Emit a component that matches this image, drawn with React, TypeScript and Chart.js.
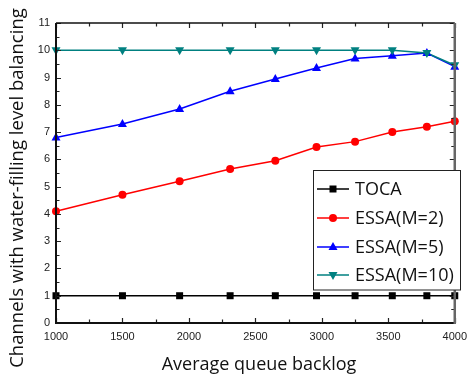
import React, { useEffect, useRef } from "react";
import { Chart, registerables } from "chart.js";

Chart.register(...registerables);

const xValues = [1000, 1500, 1930, 2310, 2650, 2960, 3250, 3530, 3790, 4000];
const toca = [1, 1, 1, 1, 1, 1, 1, 1, 1, 1];
const essaM2 = [4.1, 4.7, 5.2, 5.65, 5.95, 6.45, 6.65, 7.0, 7.2, 7.4];
const essaM5 = [6.8, 7.3, 7.85, 8.5, 8.95, 9.35, 9.7, 9.8, 9.9, 9.4];
const essaM10 = [10, 10, 10, 10, 10, 10, 10, 10, 9.9, 9.45];

const seriesNames = ["TOCA", "ESSA(M=2)", "ESSA(M=5)", "ESSA(M=10)"];
const seriesColors = ["#000000", "#ff0000", "#0000ff", "#008080"];
const seriesMarkers = ["square", "circle", "triUp", "triDown"];
const seriesValues = [toca, essaM2, essaM5, essaM10];

const xTitle = "Average queue backlog";
const yTitle = "Channels with water-filling level balancing";

const xMin = 1000, xMax = 4000, xStep = 500;
const yMin = 0, yMax = 11, yStep = 1;

function drawMarker(ctx: CanvasRenderingContext2D, kind: string, x: number, y: number, color: string) {
  ctx.save();
  ctx.fillStyle = color;
  ctx.beginPath();
  if (kind === "square") {
    ctx.rect(x - 3.5, y - 3.5, 7, 7);
  } else if (kind === "circle") {
    ctx.arc(x, y, 4, 0, Math.PI * 2);
  } else if (kind === "triUp") {
    ctx.moveTo(x, y - 5);
    ctx.lineTo(x + 4.5, y + 3);
    ctx.lineTo(x - 4.5, y + 3);
    ctx.closePath();
  } else {
    ctx.moveTo(x, y + 5);
    ctx.lineTo(x + 4.5, y - 3);
    ctx.lineTo(x - 4.5, y - 3);
    ctx.closePath();
  }
  ctx.fill();
  ctx.restore();
}

const framePlugin = {
  id: "frame",
  afterDraw(chart: any) {
    const ctx: CanvasRenderingContext2D = chart.ctx;
    const { left, right, top, bottom } = chart.chartArea;
    const xs = chart.scales.x;
    const ys = chart.scales.y;
    ctx.save();
    // ticks
    ctx.strokeStyle = "#222";
    ctx.lineWidth = 1.2;
    for (let v = xMin; v <= xMax; v += xStep / 2) {
      const px = Math.round(xs.getPixelForValue(v)) + 0.5;
      const major = (v - xMin) % xStep === 0;
      const len = major ? 5 : 3.5;
      ctx.beginPath();
      ctx.moveTo(px, bottom);
      ctx.lineTo(px, bottom - len);
      ctx.moveTo(px, top);
      ctx.lineTo(px, top + len);
      ctx.stroke();
    }
    for (let v = yMin; v <= yMax; v += yStep / 2) {
      const py = Math.round(ys.getPixelForValue(v)) + 0.5;
      const major = Math.abs(v - Math.round(v)) < 1e-9;
      const len = major ? 5 : 3.5;
      ctx.beginPath();
      ctx.moveTo(left, py);
      ctx.lineTo(left + len, py);
      ctx.moveTo(right, py);
      ctx.lineTo(right - len, py);
      ctx.stroke();
    }
    // frame
    ctx.lineWidth = 2;
    ctx.strokeStyle = "#111";
    ctx.beginPath();
    ctx.moveTo(left, top);
    ctx.lineTo(left, bottom);
    ctx.lineTo(right, bottom);
    ctx.stroke();
    ctx.lineWidth = 1.5;
    ctx.beginPath();
    ctx.moveTo(left, top);
    ctx.lineTo(right, top);
    ctx.stroke();
    ctx.lineWidth = 2.5;
    ctx.strokeStyle = "#666";
    ctx.beginPath();
    ctx.moveTo(right, top);
    ctx.lineTo(right, bottom + 1);
    ctx.stroke();

    // axis titles
    ctx.fillStyle = "#111";
    ctx.font = '18px "Open Sans"';
    ctx.textAlign = "center";
    ctx.textBaseline = "middle";
    ctx.fillText(xTitle, 259, 365);
    ctx.save();
    ctx.translate(17.5, 188);
    ctx.rotate(-Math.PI / 2);
    ctx.font = '18.5px "Open Sans"';
    ctx.fillText(yTitle, 0, 0);
    ctx.restore();

    // legend
    const bx = 313.5, by = 170.5, bw = 147, bh = 119.5;
    ctx.fillStyle = "#fff";
    ctx.fillRect(bx, by, bw, bh);
    ctx.strokeStyle = "#222";
    ctx.lineWidth = 1;
    ctx.strokeRect(bx, by, bw, bh);
    const rowY = [189, 218, 247, 275];
    ctx.font = '18px "Open Sans"';
    ctx.textAlign = "left";
    ctx.textBaseline = "middle";
    seriesNames.forEach((name, i) => {
      const y = rowY[i];
      ctx.strokeStyle = seriesColors[i];
      ctx.lineWidth = 1.5;
      ctx.beginPath();
      ctx.moveTo(317, y);
      ctx.lineTo(349, y);
      ctx.stroke();
      drawMarker(ctx, seriesMarkers[i], 333, y, seriesColors[i]);
      ctx.fillStyle = "#111";
      ctx.fillText(name, 355, y + 1);
    });
    ctx.restore();
  },
};

const markerPlugin = {
  id: "markers",
  afterDatasetsDraw(chart: any) {
    const ctx: CanvasRenderingContext2D = chart.ctx;
    for (let i = 0; i < seriesValues.length; i++) {
      const meta = chart.getDatasetMeta(i);
      meta.data.forEach((pt: any) => {
        drawMarker(ctx, seriesMarkers[i], pt.x, pt.y, seriesColors[i]);
      });
    }
  },
};

export default function App() {
  const ref = useRef<HTMLCanvasElement | null>(null);
  useEffect(() => {
    if (!ref.current) return;
    const datasets = seriesValues.map((vals, i) => ({
      label: seriesNames[i],
      data: vals.map((v, j) => ({ x: xValues[j], y: v })),
      borderColor: seriesColors[i],
      backgroundColor: seriesColors[i],
      borderWidth: 1.5,
      pointRadius: 0,
      fill: false,
      tension: 0,
      clip: false as any,
      order: 3 - i,
    }));
    const chart = new Chart(ref.current, {
      type: "line",
      data: { datasets },
      plugins: [markerPlugin, framePlugin],
      options: {
        animation: false,
        responsive: false,
        layout: { padding: { left: 0, top: 23, right: 14, bottom: 0 } },
        plugins: { legend: { display: false }, tooltip: { enabled: false } },
        scales: {
          x: {
            type: "linear",
            min: xMin,
            max: xMax,
            grid: { display: false, drawTicks: false },
            border: { display: false },
            ticks: {
              stepSize: xStep,
              padding: 7,
              color: "#222",
              font: { family: "Liberation Sans", size: 11 },
              maxRotation: 0,
              autoSkip: false,
              callback: (v: any) => String(v),
            },
            afterFit: (s: any) => {
              s.height = 55;
            },
          },
          y: {
            type: "linear",
            min: yMin,
            max: yMax,
            grid: { display: false, drawTicks: false },
            border: { display: false },
            ticks: {
              stepSize: yStep,
              padding: 6,
              color: "#222",
              font: { family: "Liberation Sans", size: 11 },
              callback: (v: any) => String(v),
            },
            afterFit: (s: any) => {
              s.width = 56;
            },
          },
        },
      },
    });
    return () => chart.destroy();
  }, []);
  return (
    <div style={{ position: "fixed", left: 0, top: 0, width: 474, height: 378, background: "#fff" }}>
      <canvas ref={ref} width={474} height={378} style={{ display: "block" }} />
    </div>
  );
}
